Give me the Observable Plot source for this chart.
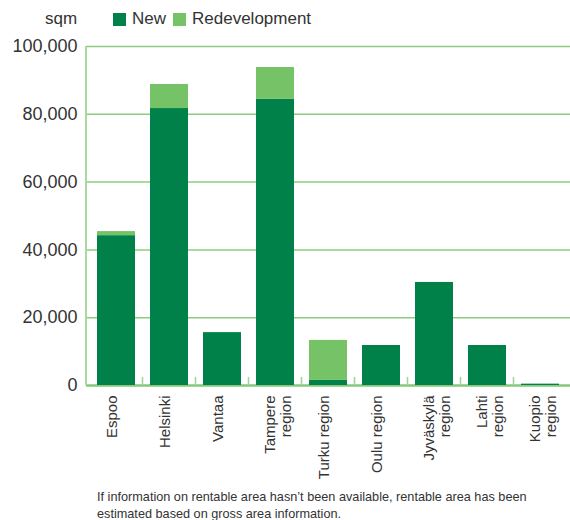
<!DOCTYPE html>
<html>
<head>
<meta charset="utf-8">
<script src="https://cdn.jsdelivr.net/npm/d3@7"></script>
<script src="https://cdn.jsdelivr.net/npm/@observablehq/plot@0.6"></script>
<style>
  body { margin: 0; background: #fff; }
  #wrap { position: relative; width: 570px; height: 520px; font-family: "Liberation Sans", Arial, sans-serif; color: #333; }
  #unit { position: absolute; left: 45px; top: 9px; font-size: 17px; line-height: 20px; }
  #legend { position: absolute; left: 113px; top: 9px; font-size: 17px; line-height: 20px; display: flex; align-items: center; }
  #legend .sw { display: inline-block; width: 13px; height: 13px; margin-right: 6px; }
  #legend .item { display: flex; align-items: center; margin-right: 7px; }
  #chart { position: absolute; left: 0; top: 34px; }
  #caption { position: absolute; left: 97px; top: 489px; font-size: 12.7px; line-height: 17px; }
</style>
</head>
<body>
<div id="wrap">
  <div id="unit">sqm</div>
  <div id="legend"></div>
  <div id="chart"></div>
  <div id="caption">If information on rentable area hasn’t been available, rentable area has been<br>estimated based on gross area information.</div>
</div>
<script>
const categories = ["Espoo", "Helsinki", "Vantaa", "Tampere region", "Turku region", "Oulu region", "Jyväskylä region", "Lahti region", "Kuopio region"];
const categoryLabels = ["Espoo", "Helsinki", "Vantaa", "Tampere\nregion", "Turku region", "Oulu region", "Jyväskylä\nregion", "Lahti\nregion", "Kuopio\nregion"];
const seriesNames = ["New", "Redevelopment"];
const newArea = [44200, 81700, 15600, 84400, 1500, 11800, 30400, 11800, 400];
const redevelopment = [1200, 7100, 0, 9400, 11800, 0, 0, 0, 0];
const yTicks = [0, 20000, 40000, 60000, 80000, 100000];
const colors = ["#00814a", "#75c267"];

const rows = [];
categories.forEach((c, i) => {
  rows.push({category: c, series: seriesNames[0], value: newArea[i]});
  rows.push({category: c, series: seriesNames[1], value: redevelopment[i]});
});
const labelRows = categories.map((c, i) => ({category: c, label: categoryLabels[i]}));
const singleLabels = labelRows.filter(d => !d.label.includes("\n"));
const doubleLabels = labelRows.filter(d => d.label.includes("\n"));

// legend
const legend = document.getElementById("legend");
seriesNames.forEach((s, i) => {
  const item = document.createElement("span");
  item.className = "item";
  item.innerHTML = `<span class="sw" style="background:${colors[i]}"></span>${s}`;
  legend.appendChild(item);
});

const boundaryTicks = (index, scales, values, dimensions) => {
  const x = scales.x, y = scales.y;
  const g = d3.create("svg:g");
  const y0 = y(0);
  g.append("line")
    .attr("x1", dimensions.marginLeft).attr("x2", dimensions.marginLeft)
    .attr("y1", y(yTicks[yTicks.length - 1])).attr("y2", y0)
    .attr("stroke", "#a9d9a0").attr("stroke-width", 2);
  const starts = categories.map(c => x(c));
  const step = starts[1] - starts[0];
  const bw = x.bandwidth ? x.bandwidth() : step * 0.72;
  for (let i = 0; i < categories.length - 1; i++) {
    const bx = (starts[i] + bw + starts[i + 1]) / 2;
    g.append("line")
      .attr("x1", bx).attr("x2", bx)
      .attr("y1", y0 - 8).attr("y2", y0)
      .attr("stroke", "#9fd394").attr("stroke-width", 1.5);
  }
  return g.node();
};

const chart = Plot.plot({
  width: 570,
  height: 446,
  marginTop: 12,
  marginBottom: 95,
  marginLeft: 86,
  marginRight: 0,
  style: {fontFamily: "'Liberation Sans', Arial, sans-serif", fontSize: "18px", color: "#333", background: "#fff"},
  x: {domain: categories, paddingInner: 0.28, paddingOuter: 0.14, axis: null},
  y: {domain: [0, 100000], ticks: yTicks, tickFormat: d3.format(","), tickSize: 0, tickPadding: 9, label: null},
  color: {domain: seriesNames, range: colors},
  marks: [
    Plot.ruleY(yTicks.slice(1), {stroke: "#8ccb80", strokeWidth: 1.5}),
    Plot.ruleY([0], {stroke: "#86c77c", strokeWidth: 2.5}),
    Plot.barY(rows, {x: "category", y: "value", fill: "series"}),
    boundaryTicks,
    Plot.text(singleLabels, {x: "category", text: "label", frameAnchor: "bottom", rotate: -90, textAnchor: "end", lineAnchor: "bottom", dy: 10, fontSize: 15, fill: "#333"}),
    Plot.text(doubleLabels, {x: "category", text: "label", frameAnchor: "bottom", rotate: -90, textAnchor: "end", lineAnchor: "middle", lineHeight: 1.1, dx: 2, dy: 10, fontSize: 15, fill: "#333"})
  ]
});
document.getElementById("chart").appendChild(chart);
</script>
</body>
</html>
